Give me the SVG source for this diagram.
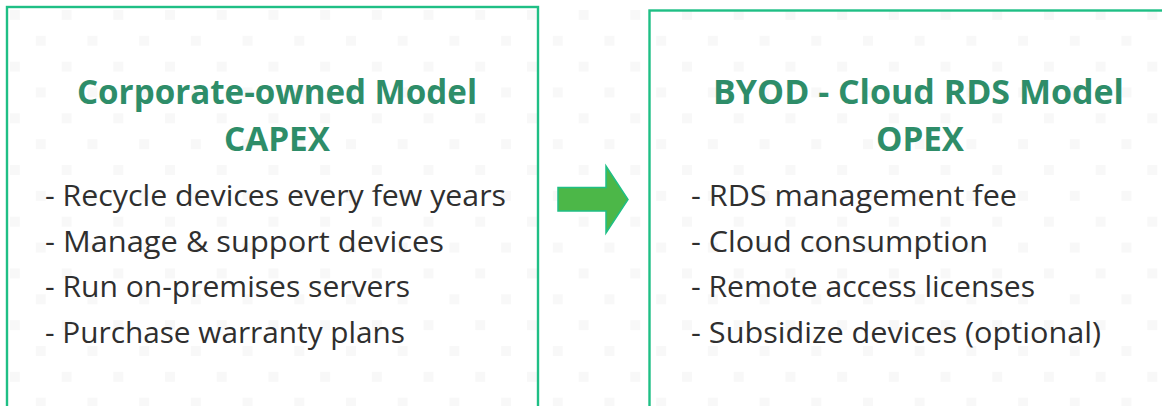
<svg xmlns="http://www.w3.org/2000/svg" width="1162" height="406" viewBox="0 0 1162 406">
  <defs>
    <pattern id="dots" patternUnits="userSpaceOnUse" x="0" y="0" width="51.7" height="51.7">
      <rect x="10" y="10" width="10" height="10" fill="#f8f8f8"/>
      <rect x="35.85" y="35.85" width="10" height="10" fill="#f8f8f8"/>
    </pattern>
    <style>
      .panel { fill: none; stroke: #1fbf85; stroke-width: 2.4; }
      .title { font-family: "Open Sans", "Noto Sans", sans-serif; font-weight: 700; font-size: 34px; fill: #2e8d69; text-anchor: middle; }
      .item { font-family: "Open Sans", "Noto Sans", sans-serif; font-size: 30px; fill: #2f2f2f; }
      .arrow { fill: #4cb748; stroke: #1fbf85; stroke-width: 1.5; stroke-linejoin: miter; }
    </style>
  </defs>

  <rect width="1162" height="406" fill="#ffffff"/>
  <rect width="1162" height="406" fill="url(#dots)"/>

  <!-- Left panel: corporate-owned model -->
  <g id="capex-model">
    <rect class="panel" x="7" y="7" width="531" height="420"/>
    <text class="title" x="277" y="104" textLength="400" lengthAdjust="spacingAndGlyphs">Corporate-owned Model</text>
    <text class="title" x="277" y="151" textLength="106" lengthAdjust="spacingAndGlyphs">CAPEX</text>
    <text class="item" x="45" y="206" textLength="461" lengthAdjust="spacingAndGlyphs">- Recycle devices every few years</text>
    <text class="item" x="45" y="251.5" textLength="399" lengthAdjust="spacingAndGlyphs">- Manage &amp; support devices</text>
    <text class="item" x="45" y="297" textLength="365" lengthAdjust="spacingAndGlyphs">- Run on-premises servers</text>
    <text class="item" x="45" y="342.5" textLength="360" lengthAdjust="spacingAndGlyphs">- Purchase warranty plans</text>
  </g>

  <!-- Right panel: BYOD cloud RDS model -->
  <g id="opex-model">
    <rect class="panel" x="649.5" y="10.5" width="540" height="420"/>
    <text class="title" x="918.5" y="104" textLength="411" lengthAdjust="spacingAndGlyphs">BYOD - Cloud RDS Model</text>
    <text class="title" x="920" y="151" textLength="88" lengthAdjust="spacingAndGlyphs">OPEX</text>
    <text class="item" x="691" y="206" textLength="326" lengthAdjust="spacingAndGlyphs">- RDS management fee</text>
    <text class="item" x="691" y="251.5" textLength="297" lengthAdjust="spacingAndGlyphs">- Cloud consumption</text>
    <text class="item" x="691" y="297" textLength="344" lengthAdjust="spacingAndGlyphs">- Remote access licenses</text>
    <text class="item" x="691" y="342.5" textLength="410" lengthAdjust="spacingAndGlyphs">- Subsidize devices (optional)</text>
  </g>

  <!-- Transition arrow -->
  <g id="connectors">
    <polygon class="arrow" points="558,187.5 606,187.5 606,166 628,199.5 606,233 606,211 558,211"/>
  </g>
</svg>
